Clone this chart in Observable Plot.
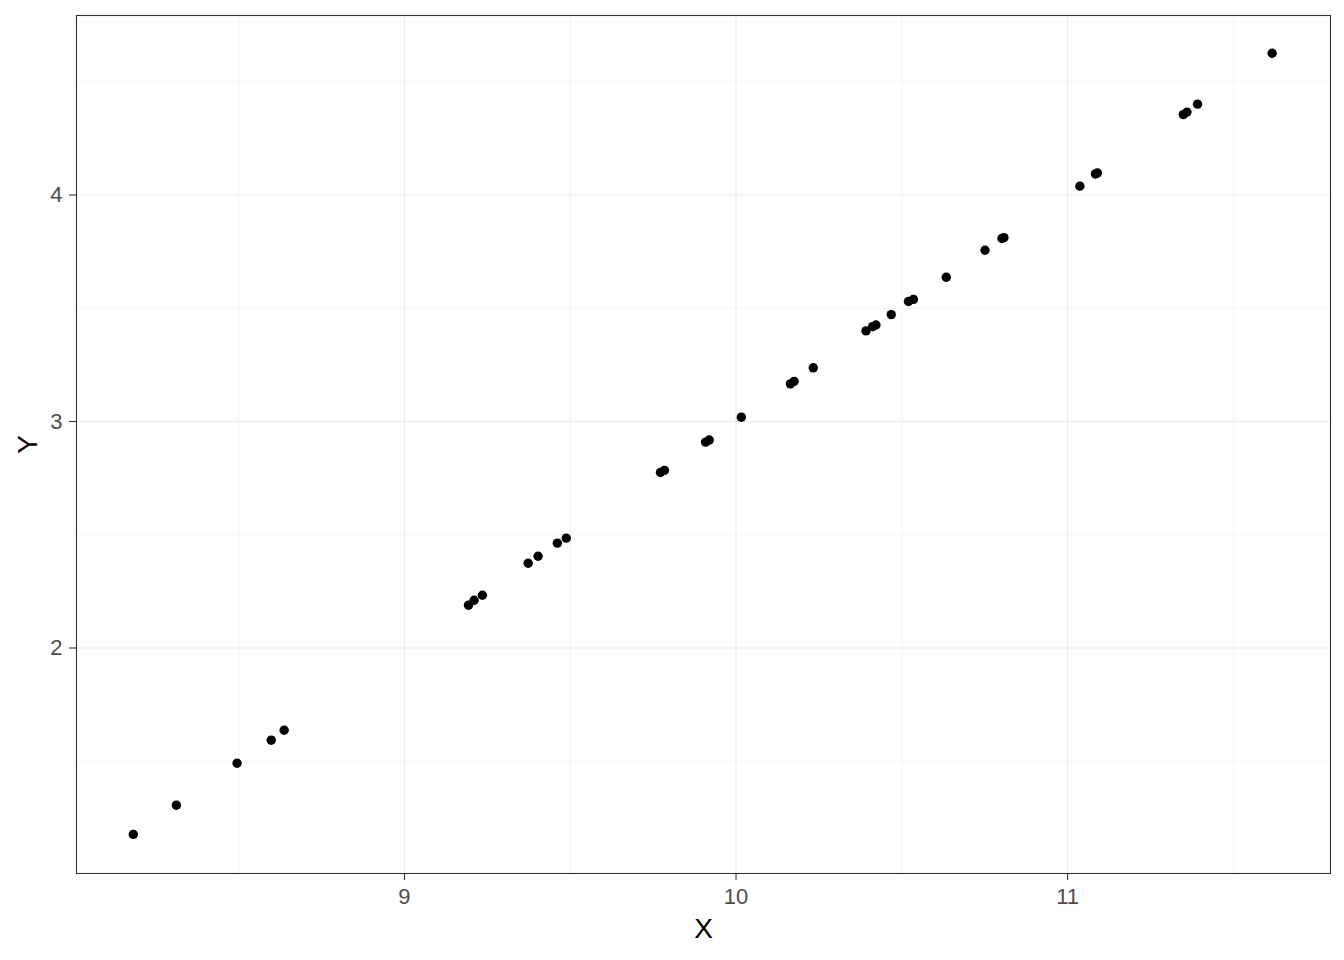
<!DOCTYPE html>
<html>
<head>
<meta charset="utf-8">
<script src="https://cdn.jsdelivr.net/npm/d3@7"></script>
<script src="https://cdn.jsdelivr.net/npm/@observablehq/plot@0.6"></script>
<style>
  html, body { margin: 0; padding: 0; background: #fff; }
  #chart svg { display: block; }
</style>
</head>
<body>
<div id="chart"></div>
<script>
const xValues = [8.182, 8.312, 8.495, 8.598, 8.637, 9.193, 9.210, 9.235, 9.373, 9.403,
  9.461, 9.488, 9.772, 9.784, 9.908, 9.919, 10.016, 10.164, 10.175, 10.233,
  10.392, 10.412, 10.422, 10.468, 10.520, 10.535, 10.634, 10.751, 10.802, 10.808,
  11.037, 11.084, 11.090, 11.349, 11.360, 11.392, 11.617];
const yValues = [1.177, 1.306, 1.491, 1.593, 1.637, 2.189, 2.211, 2.233, 2.374, 2.405,
  2.463, 2.485, 2.775, 2.784, 2.909, 2.918, 3.019, 3.166, 3.177, 3.237,
  3.400, 3.419, 3.426, 3.472, 3.530, 3.539, 3.637, 3.756, 3.808, 3.812,
  4.039, 4.093, 4.097, 4.355, 4.366, 4.401, 4.626];
const xMajor = [9, 10, 11];
const xMinor = [8.5, 9.5, 10.5, 11.5];
const yMajor = [2, 3, 4];
const yMinor = [1.5, 2.5, 3.5, 4.5];
const xTitle = "X";
const yTitle = "Y";

const points = xValues.map((x, i) => ({x, y: yValues[i]}));

const chart = Plot.plot({
  width: 1344,
  height: 960,
  marginLeft: 76,
  marginTop: 15,
  marginRight: 14,
  marginBottom: 87,
  style: {fontFamily: "'Liberation Sans', Arial, sans-serif", background: "#fff"},
  x: {domain: [8.0107, 11.793]},
  y: {domain: [1.0044, 4.7925]},
  marks: [
    Plot.ruleX(xMinor, {stroke: "#ebebeb", strokeWidth: 0.55}),
    Plot.ruleY(yMinor, {stroke: "#ebebeb", strokeWidth: 0.55}),
    Plot.ruleX(xMajor, {stroke: "#ebebeb", strokeWidth: 1.1}),
    Plot.ruleY(yMajor, {stroke: "#ebebeb", strokeWidth: 1.1}),
    Plot.dot(points, {x: "x", y: "y", r: 4.7, fill: "#000", stroke: "none"}),
    Plot.frame({stroke: "#333", strokeWidth: 1.1}),
    Plot.axisX({ticks: xMajor, tickSize: 7, tickPadding: 8, fontSize: 22, stroke: "#333", strokeWidth: 1.1, color: "#4d4d4d", label: null, tickFormat: d => String(d)}),
    Plot.axisY({ticks: yMajor, tickSize: 7, tickPadding: 7, fontSize: 22, stroke: "#333", strokeWidth: 1.1, color: "#4d4d4d", label: null, tickFormat: d => String(d)}),
    Plot.text([xTitle], {frameAnchor: "bottom", lineAnchor: "middle", textAnchor: "middle", dy: 55.5, fontSize: 28, fill: "#000", text: d => d}),
    Plot.text([yTitle], {frameAnchor: "left", lineAnchor: "middle", textAnchor: "middle", dx: -48, rotate: -90, fontSize: 28, fill: "#000", text: d => d})
  ]
});
document.getElementById("chart").appendChild(chart);
</script>
</body>
</html>
